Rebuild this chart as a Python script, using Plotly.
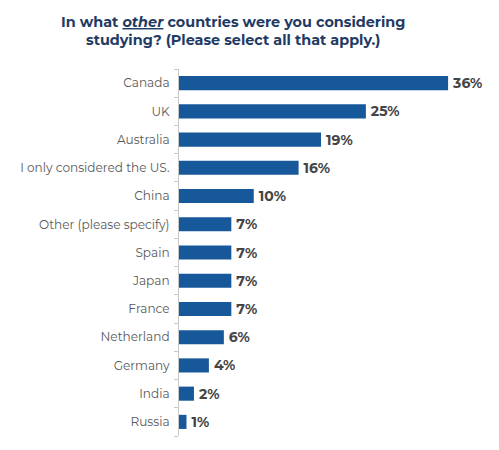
import plotly.graph_objects as go

countries = [
    "Canada",
    "UK",
    "Australia",
    "I only considered the US.",
    "China",
    "Other (please specify)",
    "Spain",
    "Japan",
    "France",
    "Netherland",
    "Germany",
    "India",
    "Russia",
]
shares = [36, 25, 19, 16, 10, 7, 7, 7, 7, 6, 4, 2, 1]

title_lines = [
    "<b>In what <i><u>other</u></i> countries were you considering</b>",
    "<b>studying? (Please select all that apply.)</b>",
]

BAR = "#17589a"
NAVY = "#1f3b64"
FONT = "Montserrat, Lato, 'Open Sans', sans-serif"

# page body has an 8px margin, so the figure is a bit smaller than the window
W, H = 491, 442
L, R, T, B = 166, 21, 61, 14

fig = go.Figure(
    go.Bar(
        x=shares,
        y=countries,
        orientation="h",
        marker=dict(color=BAR, line=dict(width=0)),
        text=[f"\u2009{v}%" for v in shares],
        textposition="outside",
        constraintext="none",
        cliponaxis=False,
        textfont=dict(family=FONT, size=14, color="#454545", weight="bold"),
        width=0.5,
    )
)

plot_w = W - L - R
plot_h = H - T - B
for line, y_px in zip(title_lines, [14, 32]):
    fig.add_annotation(
        text=line,
        xref="paper",
        yref="paper",
        x=(221 - L) / plot_w,
        y=1 + (T - y_px) / plot_h,
        xanchor="center",
        yanchor="middle",
        showarrow=False,
        font=dict(family=FONT, size=14.4, color=NAVY),
    )

fig.update_layout(
    width=W,
    height=H,
    paper_bgcolor="white",
    plot_bgcolor="white",
    showlegend=False,
    font=dict(family=FONT),
    margin=dict(l=L, r=R, t=T, b=B),
    xaxis=dict(
        range=[0, 40],
        visible=False,
        fixedrange=True,
    ),
    yaxis=dict(
        categoryorder="array",
        categoryarray=countries[::-1],
        showline=True,
        linecolor="#c8c8c8",
        linewidth=1,
        ticks="outside",
        tickson="boundaries",
        ticklen=4,
        tickcolor="#c8c8c8",
        showgrid=False,
        tickfont=dict(family=FONT, size=12.1, color="#595959"),
        ticklabelstandoff=6,
    ),
)

fig.write_html("out.html")
